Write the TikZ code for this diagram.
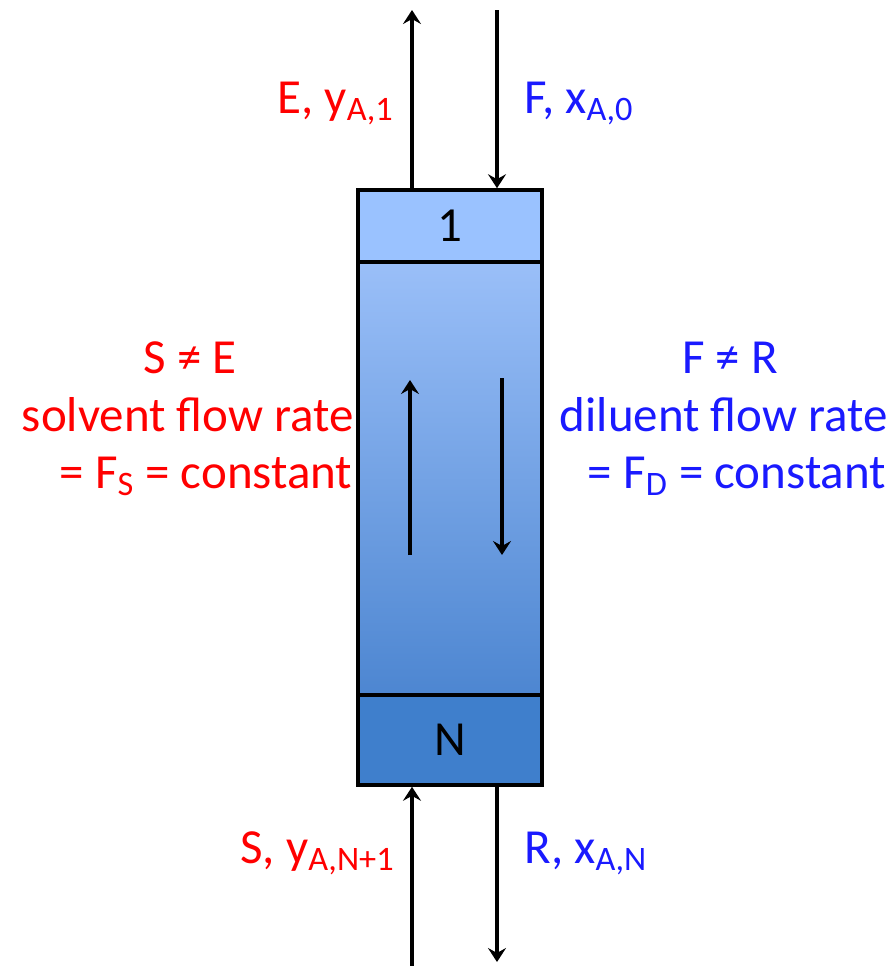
\documentclass[tikz,border=0pt]{standalone}
\usepackage{fontspec}
\setmainfont{Carlito}
\usepackage{xcolor}
\definecolor{stageTop}  {HTML}{9AC2FF}
\definecolor{colTop}    {HTML}{9ABFF8}
\definecolor{colBot}    {HTML}{4D86D1}
\definecolor{stageBot}  {HTML}{3F7FCC}
\definecolor{solvText}  {HTML}{FF0000}
\definecolor{dilText}   {HTML}{1A1AFF}
\usetikzlibrary{arrows.meta, positioning, calc}

\begin{document}
\begin{tikzpicture}[x=0.5pt, y=-0.5pt,
    every node/.style={font=\fontsize{24.5}{29}\selectfont},
    cell/.style={draw, line width=1.8pt, rectangle, minimum width=92pt,
                 inner sep=0pt},
    solv/.style={text=solvText, anchor=base, inner sep=0pt},
    dil/.style={text=dilText, anchor=base, inner sep=0pt},
    arr/.style={-{Stealth[length=7pt, width=9pt, inset=2.5pt]}, line width=2pt}
]
\useasboundingbox (0,0) rectangle (888,966);
% Column text, left side
\node[solv] (sneqe)     at (190,373) {S ≠ E};
\node[solv] (solvrate)  at (188,431) {solvent flow rate};
\node[solv] (solvconst) at (206,488) {= F\textsubscript{S} = constant};
% Column text, right side
\node[dil] (fneqr)    at (730,373) {F ≠ R};
\node[dil] (dilrate)  at (724,431) {diluent flow rate};
\node[dil] (dilconst) at (737,488) {= F\textsubscript{D} = constant};
% Column with stages
\node[cell, top color=colTop, bottom color=colBot,
      minimum height=216.5pt] (column) at (450,478.5) {};
\node[cell, fill=stageTop, minimum height=36pt] (stage1) at (450,226) {1};
\node[cell, fill=stageBot, minimum height=45pt] (stageN) at (450,740) {N};
% Streams at the top
\coordinate (Etop) at (412,10);
\coordinate (Ftop) at (497,10);
\draw[arr] (stage1.north -| Etop) -- (Etop);
\draw[arr] (Ftop) -- (stage1.north -| Ftop);
\node[solv, anchor=base west] (Elab) at (277,113) {E, y\textsubscript{A,1}};
\node[dil, anchor=base west] (Flab) at (524,113) {F, x\textsubscript{A,0}};
% Streams at the bottom
\coordinate (Sbot) at (412,966);
\coordinate (Rbot) at (497,962);
\draw[arr] (Sbot) -- (stageN.south -| Sbot);
\draw[arr] (stageN.south -| Rbot) -- (Rbot);
\node[solv, anchor=base west] (Slab) at (240,863) {S, y\textsubscript{A,N+1}};
\node[dil, anchor=base west] (Rlab) at (524,863) {R, x\textsubscript{A,N}};
% Flow directions inside
\coordinate (solvLow)  at (410,555);
\coordinate (solvHigh) at (410,380);
\coordinate (dilHigh)  at (502,378);
\coordinate (dilLow)   at (502,555);
\draw[arr] (solvLow) -- (solvHigh);
\draw[arr] (dilHigh) -- (dilLow);
\end{tikzpicture}
\end{document}
